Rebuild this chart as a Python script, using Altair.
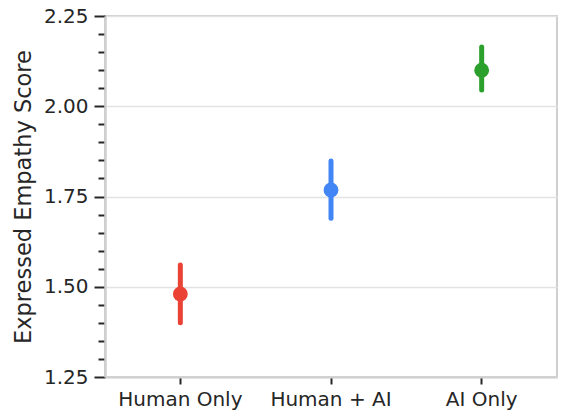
import altair as alt
import pandas as pd

conditions = ["Human Only", "Human + AI", "AI Only"]
means = [1.48, 1.768, 2.10]
lower = [1.40, 1.69, 2.045]
upper = [1.56, 1.848, 2.164]
colors = ["#EA4335", "#4285F4", "#2CA02C"]
y_ticks = [1.25, 1.30, 1.35, 1.40, 1.45, 1.50, 1.55, 1.60, 1.65, 1.70, 1.75,
           1.80, 1.85, 1.90, 1.95, 2.00, 2.05, 2.10, 2.15, 2.20, 2.25]

df = pd.DataFrame({"condition": conditions, "mean": means, "lo": lower, "hi": upper})

major = "abs(datum.value*4 - round(datum.value*4)) < 0.001"
FONT = "DejaVu Sans"
DARK = "#262626"
GRAY = "#cfcfcf"

x = alt.X("condition:N", sort=conditions, title=None,
          axis=alt.Axis(labelAngle=0, labelFont=FONT, labelFontSize=20, labelColor=DARK,
                        tickColor=DARK, tickSize=7, tickWidth=2, labelPadding=5,
                        domainColor=GRAY, domainWidth=2, grid=False))
yscale = alt.Scale(domain=[1.25, 2.25], nice=False, zero=False)
color = alt.Color("condition:N", scale=alt.Scale(domain=conditions, range=colors), legend=None)

rules = alt.Chart(df).mark_rule(strokeWidth=5, strokeCap="round").encode(
    x=x,
    y=alt.Y("lo:Q", scale=yscale, title="Expressed Empathy Score",
            axis=alt.Axis(values=y_ticks, tickCount=40, format=".2f",
                          labelExpr=f"({major}) ? datum.label : ''",
                          labelFont=FONT, labelFontSize=20, labelColor=DARK, labelPadding=6,
                          titleFont=FONT, titleFontSize=22.5, titleFontWeight="normal",
                          titleColor=DARK, titlePadding=8,
                          tickColor=DARK, tickWidth=2,
                          tickSize={"condition": {"test": major, "value": 11}, "value": 7},
                          grid=True, gridColor="#e3e3e3", gridWidth=1.5,
                          gridOpacity={"condition": {"test": major, "value": 1}, "value": 0},
                          domainColor=GRAY, domainWidth=2.5)),
    y2="hi:Q",
    color=color,
)
points = alt.Chart(df).mark_circle(size=220, opacity=1).encode(
    x=x, y=alt.Y("mean:Q", scale=yscale), color=color
)

chart = alt.layer(rules, points).properties(
    width=452, height=361,
    autosize=alt.AutoSizeParams(type="none"),
    padding={"left": 97, "top": 8, "right": 1, "bottom": 40},
).configure_view(stroke=GRAY, strokeWidth=2)

chart.save("out.html", embed_options={"renderer": "svg", "actions": False})
